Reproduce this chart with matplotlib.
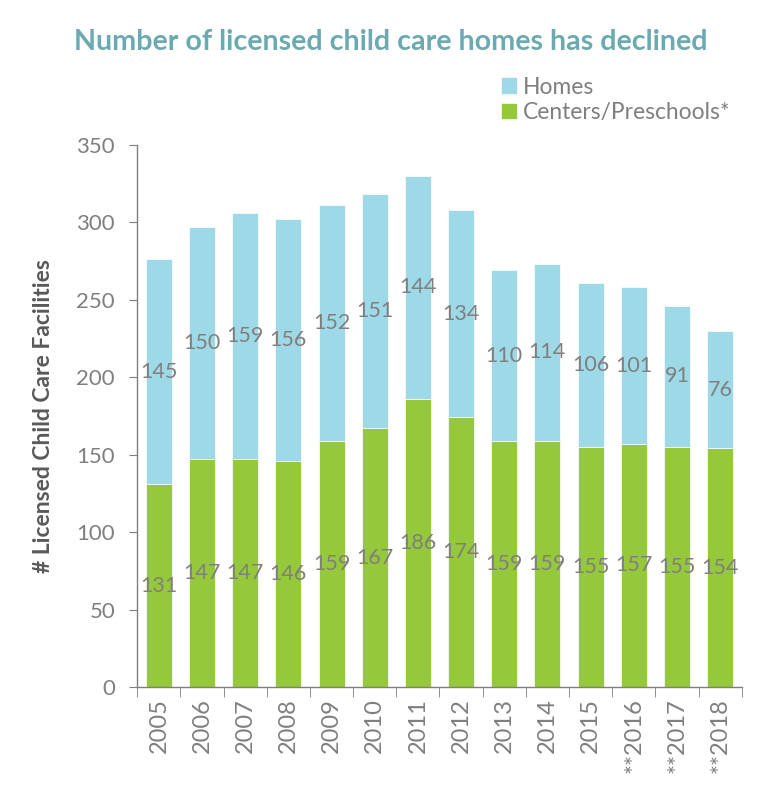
import matplotlib
matplotlib.use("Agg")
import matplotlib.pyplot as plt
import numpy as np
from matplotlib.patches import Patch

years = ["2005", "2006", "2007", "2008", "2009", "2010", "2011", "2012",
         "2013", "2014", "2015", "**2016", "**2017", "**2018"]
centers = [131, 147, 147, 146, 159, 167, 186, 174, 159, 159, 155, 157, 155, 154]
homes = [145, 150, 159, 156, 152, 151, 144, 134, 110, 114, 106, 101, 91, 76]

plt.rcParams['font.family'] = ['Lato', 'DejaVu Sans']
GRAY = "#7f7f7f"
C_HOMES = "#9dd9e6"
C_CENT = "#96c83c"

fig = plt.figure(figsize=(7.67, 7.96), dpi=100)
ax = fig.add_axes([0.179, 0.137, 0.788, 0.681])

x = np.arange(len(years))
ax.bar(x, centers, width=0.6, color=C_CENT, edgecolor="white", linewidth=0.5)
ax.bar(x, homes, bottom=centers, width=0.6, color=C_HOMES, edgecolor="white", linewidth=0.5)

for i in range(len(years)):
    ax.text(x[i], centers[i] / 2, str(centers[i]), ha="center", va="center",
            fontsize=15.5, color=GRAY)
    ax.text(x[i], centers[i] + homes[i] / 2, str(homes[i]), ha="center", va="center",
            fontsize=15.5, color=GRAY)

ax.set_xlim(-0.5, len(years) - 0.5)
ax.set_ylim(0, 350)
ax.set_yticks(np.arange(0, 351, 50))
ax.tick_params(axis="y", labelsize=16, colors=GRAY, length=6, direction="out", pad=10)
ax.set_xticks(x)
ax.set_xticklabels(years, rotation=90, fontsize=17, color=GRAY)
ax.tick_params(axis="x", length=0, pad=8)
ax.set_xticks(np.arange(-0.5, len(years), 1), minor=True)
ax.tick_params(axis="x", which="minor", length=7, color=GRAY)

for s in ["top", "right"]:
    ax.spines[s].set_visible(False)
for s in ["left", "bottom"]:
    ax.spines[s].set_color(GRAY)
    ax.spines[s].set_linewidth(1)

ax.set_ylabel("# Licensed Child Care Facilities", fontsize=16.5, fontweight="bold",
              color="#595959", labelpad=16)

handles = [Patch(color=C_HOMES, label="Homes"),
           Patch(color=C_CENT, label="Centers/Preschools*")]
leg = fig.legend(handles=handles, loc="upper left", bbox_to_anchor=(0.64, 0.918),
                 frameon=False, fontsize=16.4, handlelength=0.6, handleheight=0.6,
                 handletextpad=0.3, labelspacing=0.2, borderpad=0)
for t in leg.get_texts():
    t.set_color(GRAY)

fig.text(0.509, 0.947, "Number of licensed child care homes has declined",
         ha="center", va="center", fontsize=20.6, fontweight="bold", color="#6aaab0")

fig.savefig("out.png", dpi=100)
